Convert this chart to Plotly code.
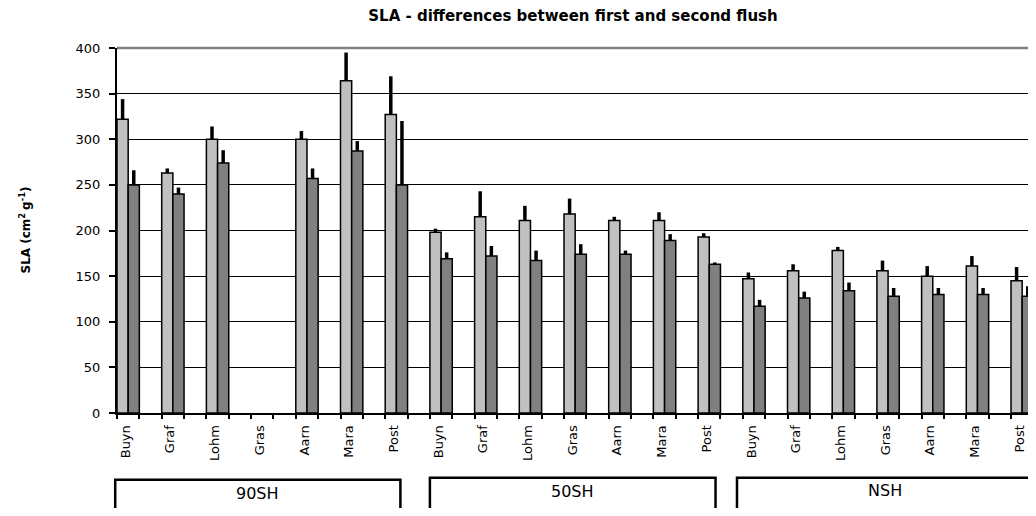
import plotly.graph_objects as go

# ---------------- data ----------------
sites = ["Buyn", "Graf", "Lohm", "Gras", "Aarn", "Mara", "Post"]
groups = ["90SH", "50SH", "NSH"]
categories = [s for g in groups for s in sites]

first_flush = [322, 263, 300, None, 300, 364, 327,
               198, 215, 211, 218, 211, 211, 193,
               147, 156, 178, 156, 150, 161, 145]
first_err = [22, 5, 14, None, 9, 31, 42,
             4, 28, 16, 17, 4, 9, 4,
             7, 7, 4, 11, 11, 11, 15]
second_flush = [250, 240, 274, None, 257, 287, 250,
                169, 172, 167, 174, 174, 189, 163,
                117, 126, 134, 128, 130, 130, 128]
second_err = [16, 7, 14, None, 11, 11, 70,
              7, 11, 11, 11, 4, 7, 2,
              7, 7, 9, 9, 7, 7, 11]

y_ticks = [0, 50, 100, 150, 200, 250, 300, 350, 400]

# ---------------- layout geometry ----------------
# page body has an 8px margin on every side: size the figure to fit inside it
OFF = 8
W, H = 1036 - 2 * OFF, 516 - 2 * OFF
ML, MR, MT = 117 - OFF, 0, 48 - OFF
MB = H - (413.3 - OFF)
CAT_PX = 44.7
PLOT_W = W - ML - MR
XMAX = PLOT_W / CAT_PX
PLOT_H = H - MT - MB

idx = list(range(len(categories)))
bar_w = 0.25


def cat2paper(c):
    return c / XMAX


def px2paper(px):
    # px given in reference-page pixels
    return (px - OFF - ML) / PLOT_W


def py2paper(py):
    # py given in reference-page pixels
    return (H - MB - (py - OFF)) / PLOT_H


font = "DejaVu Sans"

fig = go.Figure()
fig.add_trace(go.Bar(
    x=[i + bar_w / 2 for i in idx], y=first_flush, width=bar_w,
    name="first flush",
    marker=dict(color="#C0C0C0", line=dict(color="black", width=1.5)),
    error_y=dict(type="data", symmetric=False, array=first_err,
                 arrayminus=[0] * len(idx), thickness=3.5, width=0, color="black"),
))
fig.add_trace(go.Bar(
    x=[i + 1.5 * bar_w for i in idx], y=second_flush, width=bar_w,
    name="second flush",
    marker=dict(color="#808080", line=dict(color="black", width=1.5)),
    error_y=dict(type="data", symmetric=False, array=second_err,
                 arrayminus=[0] * len(idx), thickness=3.5, width=0, color="black"),
))

fig.update_layout(
    width=W, height=H,
    margin=dict(l=ML, r=MR, t=MT, b=MB, pad=0),
    paper_bgcolor="white", plot_bgcolor="white",
    barmode="overlay", showlegend=False,
    font=dict(family=font, color="black"),
    title=dict(text="<b>SLA - differences between first and second flush</b>",
               font=dict(family=font, size=15, color="black"),
               x=px2paper(573), xref="paper", xanchor="center",
               y=1 - (16 - OFF) / H, yref="container", yanchor="middle"),
)

fig.update_xaxes(
    range=[0, XMAX],
    tickmode="array",
    tickvals=[i + 0.19 for i in idx],
    ticktext=categories,
    tickangle=-90,
    ticklabeloverflow="allow",
    tickfont=dict(family=font, size=13, color="black"),
    ticks="outside", ticklen=5, tickcolor="rgba(0,0,0,0)",
    showgrid=False, zeroline=False,
    showline=True, linecolor="black", linewidth=2,
    minor=dict(tickmode="array", tickvals=[k * 0.5 for k in range(2 * len(idx) + 1)],
               ticks="outside", ticklen=4, tickwidth=2, tickcolor="black", showgrid=False),
)

fig.update_yaxes(
    range=[0, 400],
    tickmode="array", tickvals=y_ticks,
    tickfont=dict(family=font, size=13, color="black"),
    ticks="outside", ticklen=6, tickwidth=1.5, tickcolor="black",
    ticklabelstandoff=6,
    showgrid=True, gridcolor="black", gridwidth=1,
    zeroline=False,
    showline=True, linecolor="black", linewidth=2,
)

# gray top border of plot area
fig.add_shape(type="line", xref="paper", yref="paper", x0=0, x1=1, y0=1, y1=1,
              line=dict(color="#808080", width=2.5))

# y-axis title
fig.add_annotation(text="<b>SLA (cm<sup>2 </sup>g<sup>-1</sup>)</b>",
                   xref="paper", yref="paper",
                   x=px2paper(24), y=0.5,
                   xanchor="center", yanchor="middle",
                   textangle=-90, showarrow=False,
                   font=dict(family=font, size=12, color="black"))

# group boxes
group_spans = [(-0.04, 6.34, 480, 494), (7.0, 13.39, 478, 492), (13.87, 20.8, 478, 491)]
for g, (c0, c1, top, ty) in zip(groups, group_spans):
    fig.add_shape(type="rect", xref="paper", yref="paper",
                  x0=cat2paper(c0), x1=cat2paper(c1),
                  y0=py2paper(top), y1=py2paper(540),
                  line=dict(color="black", width=2.5), fillcolor="rgba(0,0,0,0)")
    cx = (c0 + c1) / 2 if g != "NSH" else 17.18
    fig.add_annotation(text=g, xref="paper", yref="paper",
                       x=cat2paper(cx), y=py2paper(ty), showarrow=False,
                       xanchor="center", yanchor="middle",
                       font=dict(family=font, size=16, color="black"))

fig.write_html("out.html")
